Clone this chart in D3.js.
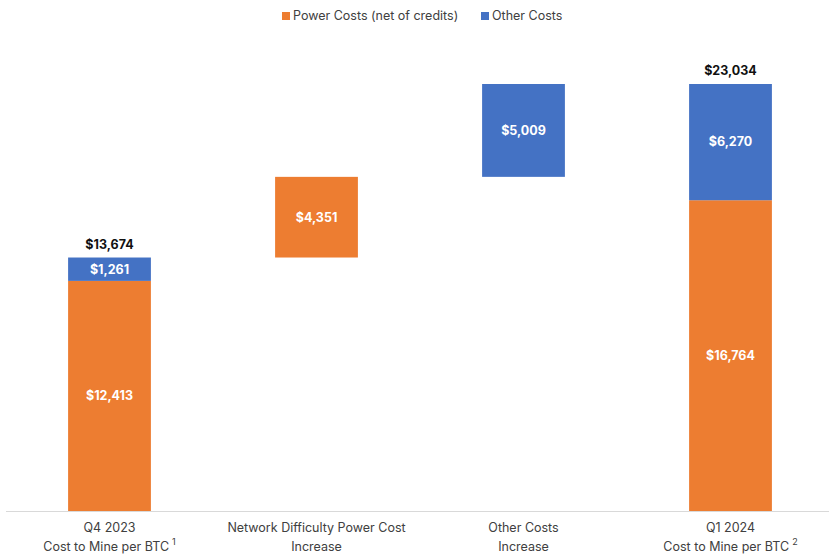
<!DOCTYPE html>
<html>
<head>
<meta charset="utf-8">
<script src="https://cdn.jsdelivr.net/npm/d3@7"></script>
<style>
  body { margin: 0; background: #fff; }
  svg { display: block; font-family: "Inter", "Open Sans", "Liberation Sans", sans-serif; }
</style>
</head>
<body>
<svg id="chart" width="831" height="554"></svg>
<script>
// Cost-to-mine waterfall, Q4 2023 -> Q1 2024
const categories = ["q4", "netdiff", "other", "q1"];
const categoryLabels = [
  ["Q4 2023", "Cost to Mine per BTC", "1"],
  ["Network Difficulty Power Cost", "Increase", ""],
  ["Other Costs", "Increase", ""],
  ["Q1 2024", "Cost to Mine per BTC", "2"]
];
const powerCosts = [12413, 4351, 0, 16764];
const otherCosts = [1261, 0, 5009, 6270];
const isTotal = [true, false, false, true];
const totalLabels = ["$13,674", null, null, "$23,034"];
const seriesNames = ["Power Costs (net of credits)", "Other Costs"];
const colors = ["#ED7D31", "#4472C4"];

const svg = d3.select("#chart");

const x = d3.scaleBand().domain(categories).range([6, 834]).paddingInner(0.6).paddingOuter(0.3);
const y = d3.scaleLinear().domain([0, 23034]).range([511, 84]);

// build floating segments: totals start from zero, increments continue from the running total
const segments = [];
let running = 0;
categories.forEach((c, i) => {
  let base = isTotal[i] ? 0 : running;
  const p = powerCosts[i], o = otherCosts[i];
  if (p > 0) { segments.push({ c, s: 0, y0: base, y1: base + p, v: p }); base += p; }
  if (o > 0) { segments.push({ c, s: 1, y0: base, y1: base + o, v: o }); base += o; }
  running = base;
});

const fmt = v => "$" + d3.format(",")(v);

svg.append("g").selectAll("rect").data(segments).join("rect")
  .attr("x", d => x(d.c))
  .attr("width", x.bandwidth())
  .attr("y", d => y(d.y1))
  .attr("height", d => y(d.y0) - y(d.y1))
  .attr("fill", d => colors[d.s]);

svg.append("g").selectAll("text").data(segments).join("text")
  .attr("x", d => x(d.c) + x.bandwidth() / 2)
  .attr("y", d => (y(d.y0) + y(d.y1)) / 2)
  .attr("dy", "0.35em")
  .attr("text-anchor", "middle")
  .attr("fill", "#fff")
  .attr("font-size", 12.5)
  .attr("font-weight", 700)
  .text(d => fmt(d.v));

// totals above the stacked bars
svg.append("g").selectAll("text").data(categories.filter((c, i) => totalLabels[i])).join("text")
  .attr("x", c => x(c) + x.bandwidth() / 2)
  .attr("y", c => { const i = categories.indexOf(c); return y(powerCosts[i] + otherCosts[i]) - 9; })
  .attr("text-anchor", "middle")
  .attr("fill", "#111")
  .attr("font-size", 12.5)
  .attr("font-weight", 700)
  .text(c => totalLabels[categories.indexOf(c)]);

// baseline axis
svg.append("line")
  .attr("x1", 6).attr("x2", 829)
  .attr("y1", y(0) + 0.5).attr("y2", y(0) + 0.5)
  .attr("stroke", "#d9d9d9").attr("stroke-width", 1);

// category labels
const catG = svg.append("g").selectAll("text").data(categories).join("text")
  .attr("x", c => x(c) + x.bandwidth() / 2)
  .attr("text-anchor", "middle")
  .attr("fill", "#404040")
  .attr("font-size", 12.5);
catG.append("tspan").attr("x", c => x(c) + x.bandwidth() / 2).attr("y", 532)
  .text((c, i) => categoryLabels[i][0]);
catG.append("tspan").attr("x", c => x(c) + x.bandwidth() / 2).attr("y", 551)
  .text((c, i) => categoryLabels[i][1]);
catG.filter((c, i) => categoryLabels[i][2]).append("tspan")
  .attr("dx", 3).attr("dy", -6).attr("font-size", 9)
  .text(c => categoryLabels[categories.indexOf(c)][2]);

// legend
const legend = svg.append("g");
const legendItems = [{ x: 282, i: 0 }, { x: 481, i: 1 }];
legendItems.forEach(({ x: lx, i }) => {
  legend.append("rect").attr("x", lx).attr("y", 12).attr("width", 8).attr("height", 8).attr("fill", colors[i]);
  legend.append("text").attr("x", lx + 11).attr("y", 16).attr("dy", "0.35em")
    .attr("font-size", 12.5).attr("fill", "#404040").text(seriesNames[i]);
});
</script>
</body>
</html>
